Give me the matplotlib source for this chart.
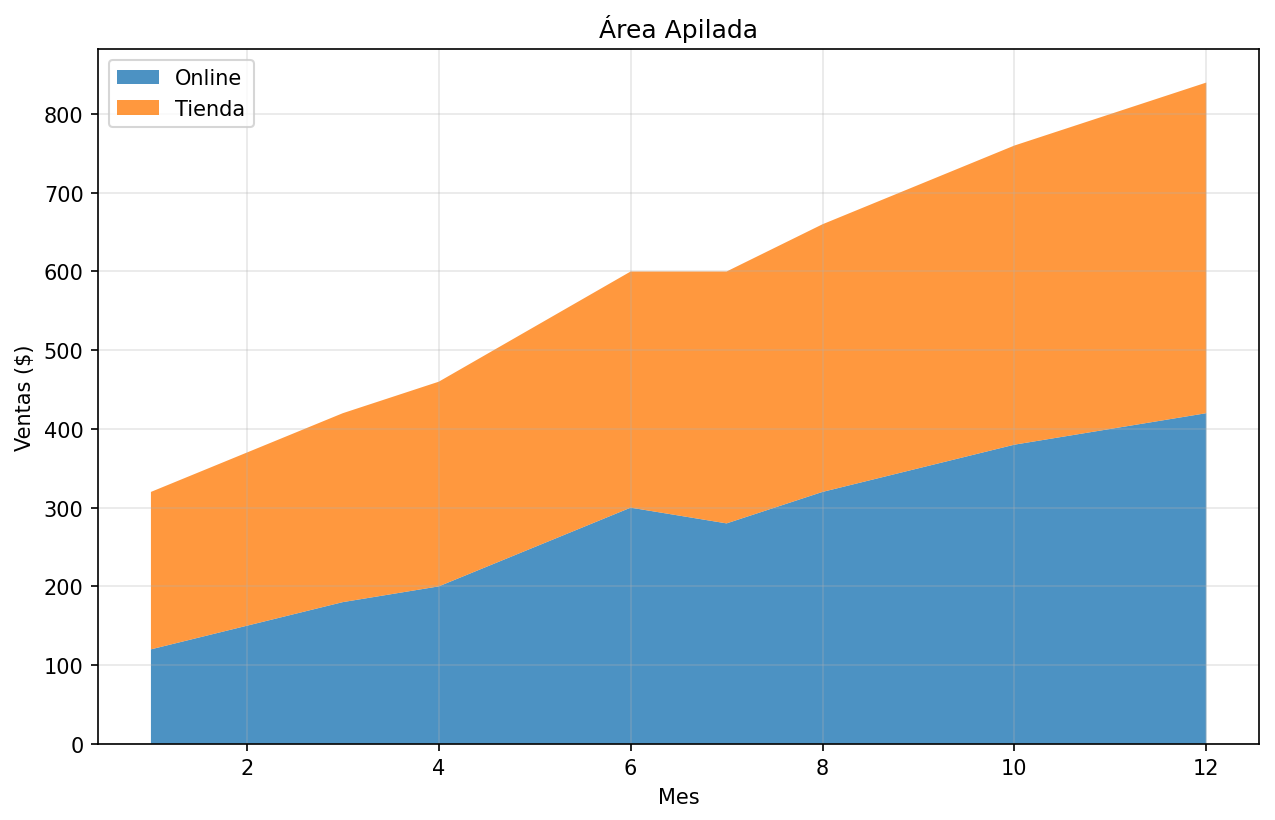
import matplotlib
matplotlib.use("Agg")
import matplotlib.pyplot as plt

meses = [1, 2, 3, 4, 5, 6, 7, 8, 9, 10, 11, 12]
online = [120, 150, 180, 200, 250, 300, 280, 320, 350, 380, 400, 420]
tienda = [200, 220, 240, 260, 280, 300, 320, 340, 360, 380, 400, 420]
etiquetas = ["Online", "Tienda"]

fig, ax = plt.subplots(figsize=(8.5, 5.4733), dpi=150)
fig.subplots_adjust(left=0.077, right=0.9875, top=0.9385, bottom=0.0928)
ax.stackplot(meses, online, tienda, labels=etiquetas, alpha=0.8)
ax.set_title("Área Apilada")
ax.set_xlabel("Mes")
ax.set_ylabel("Ventas ($)")
ax.legend(loc="upper left")
ax.grid(True, alpha=0.3)
fig.savefig("out.png", dpi=150)
